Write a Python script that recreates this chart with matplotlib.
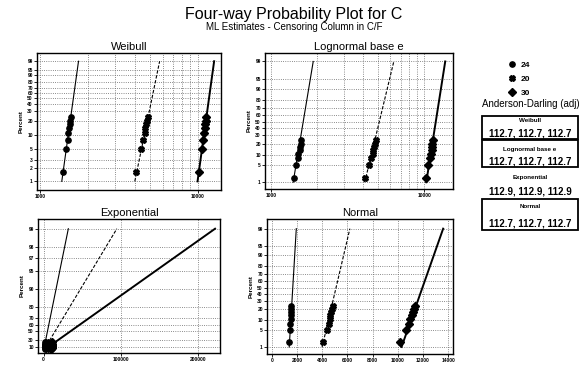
import numpy as np
import matplotlib
matplotlib.use('Agg')
import matplotlib.pyplot as plt
from matplotlib.patches import Rectangle
from matplotlib.ticker import LogLocator, NullLocator, NullFormatter
from statistics import NormalDist

plt.rcParams['font.family'] = ['Liberation Sans', 'DejaVu Sans']

# data
groups = ['24', '20', '30']
pct = [1.6, 5, 8, 11, 14, 17, 20, 24]
t24 = [1400, 1455, 1490, 1505, 1530, 1535, 1555, 1560]
t20 = [4090, 4380, 4510, 4600, 4650, 4720, 4780, 4830]
t30 = [10200, 10650, 10900, 11000, 11150, 11200, 11300, 11400]
times = [t24, t20, t30]

# fitted lines: x at 1 % and at 99 %
fit_pct = [1, 99]
wb_lo, wb_hi = [1370, 3990, 10000], [1750, 5740, 12750]
ln_lo, ln_hi = [1390, 4080, 10300], [1880, 6320, 13700]
ex_lo, ex_hi = [320, 950, 2230], [32000, 94700, 221600]
no_lo, no_hi = [1390, 4000, 10300], [1950, 6200, 13600]

ad_names = ['Weibull', 'Lognormal base e', 'Exponential', 'Normal']
ad_weibull = [112.7, 112.7, 112.7]
ad_lognormal = [112.7, 112.7, 112.7]
ad_expo = [112.9, 112.9, 112.9]
ad_normal = [112.7, 112.7, 112.7]

wb_ticks = [1, 2, 3, 5, 10, 20, 30, 40, 50, 60, 70, 80, 90, 95, 99]
nrm_ticks = [1, 5, 10, 20, 30, 40, 50, 60, 70, 80, 90, 95, 99]
ex_ticks = [10, 30, 50, 60, 70, 80, 90, 95, 97, 98, 99]

markers = ['o', 'X', 'D']
lstyles = [dict(ls='-', lw=0.8), dict(ls=(0, (3, 1.5)), lw=0.8), dict(ls='-', lw=1.4)]

# probability scales
nd = NormalDist()
_ppf = np.vectorize(nd.inv_cdf, otypes=[float])
_cdf = np.vectorize(nd.cdf, otypes=[float])


def _q(p):
    q = np.asarray(p, dtype=float) / 100.0
    q = np.where(np.isfinite(q), q, 0.5)
    return np.clip(q, 1e-12, 1 - 1e-12)


def wb_fwd(p):
    return np.log(-np.log(1 - _q(p)))


def wb_inv(y):
    return 100 * (1 - np.exp(-np.exp(np.asarray(y, dtype=float))))


def nrm_fwd(p):
    return _ppf(_q(p))


def nrm_inv(z):
    return 100 * _cdf(np.asarray(z, dtype=float))


def ex_fwd(p):
    q = np.minimum(np.asarray(p, dtype=float) / 100.0, 1 - 1e-12)
    return -np.log(1 - q)


def ex_inv(y):
    return 100 * (1 - np.exp(-np.asarray(y, dtype=float)))


W, H = 582, 369
fig = plt.figure(figsize=(W / 100, H / 100), dpi=100)


def px_axes(l, r, t, b):
    return fig.add_axes([l / W, 1 - b / H, (r - l) / W, (b - t) / H])


def style(ax, title, yticks, fwd, inv, ylim):
    ax.set_yscale('function', functions=(fwd, inv))
    ax.set_ylim(*ylim)
    ax.set_yticks(yticks)
    ax.set_yticklabels([str(t) for t in yticks])
    ax.yaxis.set_minor_locator(NullLocator())
    ax.set_title(title, fontsize=8, pad=2)
    ax.set_ylabel('Percent', fontsize=4.5, fontweight='bold', labelpad=3)
    ax.tick_params(direction='out', length=2, width=0.6, labelsize=3.5, pad=1)
    for lab in ax.get_xticklabels() + ax.get_yticklabels():
        lab.set_fontweight('bold')
    ax.grid(True, which='major', axis='y', ls=':', color='0.4', lw=0.6)
    ax.grid(True, which='both', axis='x', ls=':', color='0.4', lw=0.6)
    for s in ax.spines.values():
        s.set_linewidth(1.0)


def draw(ax, lo, hi):
    handles = []
    for i in range(3):
        h, = ax.plot(times[i], pct, ls='none', marker=markers[i], color='k', ms=3.8)
        handles.append(h)
        ax.plot([lo[i], hi[i]], fit_pct, color='k', **lstyles[i])
    return handles


def log_x(ax, xlim):
    ax.set_xscale('log')
    ax.set_xlim(*xlim)
    ax.set_xticks([1000, 10000])
    ax.set_xticklabels(['1000', '10000'])
    ax.xaxis.set_minor_locator(LogLocator(base=10, subs=np.arange(2, 10)))
    ax.xaxis.set_minor_formatter(NullFormatter())


# Weibull
ax1 = px_axes(37, 221, 53, 190)
hs = draw(ax1, wb_lo, wb_hi)
log_x(ax1, (953, 14100))
style(ax1, 'Weibull', wb_ticks, wb_fwd, wb_inv, (0.645, 99.91))
ax1.tick_params(which='minor', length=0)

# Lognormal
ax2 = px_axes(265, 453, 53, 189)
draw(ax2, ln_lo, ln_hi)
log_x(ax2, (910, 15400))
style(ax2, 'Lognormal base e', nrm_ticks, nrm_fwd, nrm_inv, (0.486, 99.6))
ax2.tick_params(which='minor', length=0)

# Exponential
ax3 = px_axes(38, 220, 219, 353)
draw(ax3, ex_lo, ex_hi)
ax3.set_xlim(-7200, 228000)
ax3.set_xticks([0, 100000, 200000])
style(ax3, 'Exponential', ex_ticks, ex_fwd, ex_inv, (-14.7, 99.31))

# Normal
ax4 = px_axes(267, 453, 219, 354)
draw(ax4, no_lo, no_hi)
ax4.set_xlim(-373, 14380)
ax4.set_xticks(np.arange(0, 14001, 2000))
style(ax4, 'Normal', nrm_ticks, nrm_fwd, nrm_inv, (0.463, 99.66))

fig.text(294 / W, 1 - 15 / H, 'Four-way Probability Plot for C', ha='center', va='center', fontsize=11.5)
fig.text(294 / W, 1 - 27 / H, 'ML Estimates - Censoring Column in C/F', ha='center', va='center', fontsize=7)

# group legend
fig.legend(hs, groups, loc='upper left', bbox_to_anchor=(500 / W, 1 - 54 / H), frameon=False,
           handlelength=1.0, handletextpad=0.6, labelspacing=0.7,
           prop={'weight': 'bold', 'size': 6})

# Anderson-Darling boxes
lax = fig.add_axes([0, 0, 1, 1])
lax.set_xlim(0, W)
lax.set_ylim(H, 0)
lax.axis('off')
lax.text(531, 104, 'Anderson-Darling (adj)', ha='center', va='center', fontsize=7)
ad_vals = [ad_weibull, ad_lognormal, ad_expo, ad_normal]
boxes = [(116, 139, 121, 133), (140, 167, 150, 162), (None, None, 178, 191), (199, 230, 207, 223)]
for name, vals, (top, bot, ny, vy) in zip(ad_names, ad_vals, boxes):
    if top is not None:
        lax.add_patch(Rectangle((482, top), 96, bot - top, fill=False, ec='k', lw=1.3))
    lax.text(530, ny, name, ha='center', va='center', fontsize=4.5, fontweight='bold')
    lax.text(530, vy, ', '.join(f'{v:.1f}' for v in vals), ha='center', va='center',
             fontsize=7, fontweight='bold')

fig.savefig('out.png', dpi=100)
